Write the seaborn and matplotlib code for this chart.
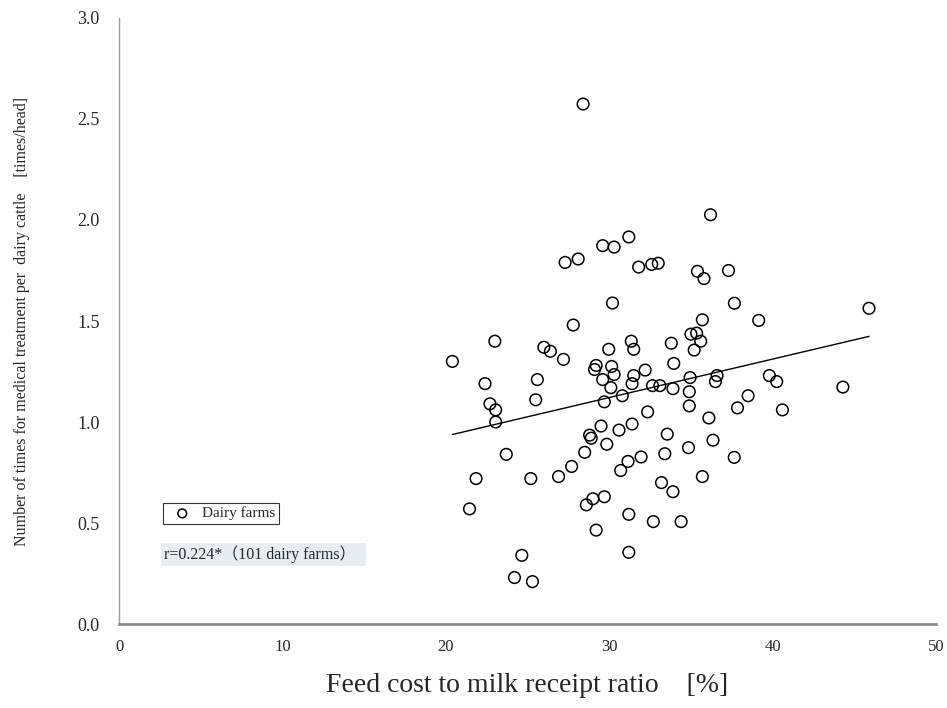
import numpy as np
import pandas as pd
import matplotlib
matplotlib.use("Agg")
import matplotlib.pyplot as plt
import seaborn as sns

# feed cost to milk receipt ratio [%]
feed_ratio = [
    20.4, 23.0, 26.0, 26.4, 27.2, 29.97, 29.2, 29.1, 30.15, 30.3,
    29.6, 30.1, 30.8, 29.7, 22.4, 25.6, 25.5, 22.7, 23.05, 23.05,
    23.7, 21.85, 25.2, 21.45, 24.65, 24.2, 25.3, 26.9, 27.7, 28.5,
    28.8, 28.9, 29.5, 29.85, 30.6, 28.6, 29.0, 29.7, 29.2, 31.35,
    31.5, 33.8, 35.0, 35.35, 35.6, 35.2, 33.95, 32.2, 31.5, 31.4,
    32.65, 33.1, 33.9, 34.95, 34.9, 34.9, 36.6, 36.5, 39.8, 40.25,
    38.5, 37.85, 40.6, 32.35, 31.4, 36.1, 33.55, 36.35, 34.85, 33.4,
    31.95, 31.15, 30.7, 37.65, 35.7, 33.2, 33.9, 31.2, 32.7, 34.4,
    31.2, 45.9, 44.3, 28.4, 36.2, 31.2, 29.6, 30.3, 27.3, 28.1,
    31.8, 32.6, 33.0, 35.4, 35.8, 37.3, 30.2, 27.8, 35.7, 37.66,
    39.15,
]

# medical treatments per dairy cattle [times/head]
treatments = [
    1.30, 1.40, 1.37, 1.35, 1.31, 1.36, 1.28, 1.26, 1.275, 1.235,
    1.21, 1.17, 1.13, 1.10, 1.19, 1.21, 1.11, 1.09, 1.06, 1.00,
    0.84, 0.72, 0.72, 0.57, 0.34, 0.23, 0.21, 0.73, 0.78, 0.85,
    0.935, 0.92, 0.98, 0.89, 0.96, 0.59, 0.62, 0.63, 0.465, 1.40,
    1.36, 1.39, 1.435, 1.44, 1.40, 1.356, 1.29, 1.257, 1.23, 1.19,
    1.18, 1.18, 1.165, 1.22, 1.15, 1.08, 1.23, 1.20, 1.23, 1.20,
    1.13, 1.07, 1.06, 1.05, 0.99, 1.02, 0.94, 0.91, 0.873, 0.843,
    0.827, 0.805, 0.76, 0.825, 0.73, 0.70, 0.655, 0.543, 0.507, 0.507,
    0.355, 1.563, 1.173, 2.574, 2.026, 1.916, 1.873, 1.866, 1.79, 1.807,
    1.767, 1.78, 1.786, 1.746, 1.71, 1.75, 1.589, 1.48, 1.506, 1.588,
    1.503,
]

x_ticks = [0, 10, 20, 30, 40, 50]
y_ticks = [0.0, 0.5, 1.0, 1.5, 2.0, 2.5, 3.0]

df = pd.DataFrame({"feed": feed_ratio, "treat": treatments})

sns.set_style("white")
plt.rcParams["font.family"] = ["Liberation Serif", "Noto Sans CJK JP", "DejaVu Sans"]

fig = plt.figure(figsize=(9.47, 7.08), dpi=100)
ax = fig.add_axes([0.1257, 0.1186, 0.8627, 0.856])

sns.scatterplot(data=df, x="feed", y="treat", ax=ax, s=70, facecolor="none",
                edgecolor="black", linewidth=1.1, label="Dairy farms")
sns.regplot(data=df, x="feed", y="treat", ax=ax, scatter=False, ci=None,
            line_kws={"color": "black", "linewidth": 1.0})

ax.set_xlim(0, 50)
ax.set_ylim(0, 3.0)
ax.set_xticks(x_ticks)
ax.set_yticks(y_ticks)
ax.set_yticklabels([f"{v:.1f}" for v in y_ticks])

for side in ["top", "right"]:
    ax.spines[side].set_visible(False)
ax.spines["bottom"].set_color("#8c8c8c")
ax.spines["bottom"].set_linewidth(2.0)
ax.spines["left"].set_color("#9a9a9a")
ax.spines["left"].set_linewidth(1.0)
ax.tick_params(axis="x", direction="out", length=4, width=0.8,
               color="#9a9a9a", labelsize=12, pad=7)
ax.tick_params(axis="y", direction="out", length=4, width=0.8,
               color="#9a9a9a", labelsize=13, pad=10)

ax.set_xlabel("Feed cost to milk receipt ratio    [%]", fontsize=20, labelpad=13)
ax.set_ylabel("Number of times for medical treatment per  dairy cattle    [times/head]",
              fontsize=11.5, labelpad=34)

leg = ax.legend(loc="upper left", bbox_to_anchor=(0.054, 0.2), frameon=True,
                fancybox=False, edgecolor="black", fontsize=11,
                borderpad=0.25, handletextpad=0.3, borderaxespad=0,
                markerscale=0.75)
leg.get_frame().set_linewidth(0.8)

ax.text(0.055, 0.115, "r=0.224*（101 dairy farms）  ", transform=ax.transAxes,
        fontsize=11.5, va="center", ha="left",
        bbox=dict(facecolor="#e8edf4", edgecolor="none", pad=2.0))

fig.savefig("out.png", dpi=100)
